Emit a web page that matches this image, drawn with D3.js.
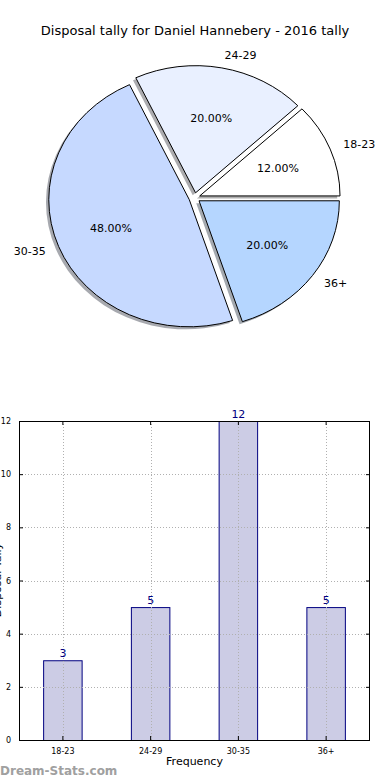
<!DOCTYPE html>
<html><head><meta charset="utf-8">
<script src="https://cdn.jsdelivr.net/npm/d3@7"></script>
<style>html,body{margin:0;padding:0;background:#fff;}svg{display:block;font-family:"DejaVu Sans",sans-serif;}</style>
</head><body>
<svg id="c" width="390" height="780"></svg>
<script>
const categories = ["18-23", "24-29", "30-35", "36+"];
const tallies = [3, 5, 12, 5];
const pieColors = ["#ffffff", "#e9f0ff", "#c6d9ff", "#b5d6ff"];
const yTicks = [0, 2, 4, 6, 8, 10, 12];
const titleText = "Disposal tally for Daniel Hannebery - 2016 tally";

const svg = d3.select("#c");

// ---------- Pie ----------
const cx = 194.5, cy = 197.8, rx = 140.3, ry = 127.1, explode = 0.04;
svg.append("text").attr("x", 195).attr("y", 35).attr("text-anchor", "middle")
  .attr("font-size", 13).attr("fill", "#000").text(titleText);

const total = d3.sum(tallies);
const pie = d3.pie().sort(null).startAngle(Math.PI / 2).endAngle(Math.PI / 2 - 2 * Math.PI);
const arcs = pie(tallies);
const arc = d3.arc().innerRadius(0).outerRadius(1);

function off(d) {
  const m = (d.startAngle + d.endAngle) / 2;
  return [explode * rx * Math.sin(m), -explode * ry * Math.cos(m)];
}
// shadows
arcs.forEach((d, i) => {
  const [ox, oy] = off(d);
  const c = d3.rgb(pieColors[i]);
  svg.append("path").attr("d", arc(d))
    .attr("transform", `translate(${cx + ox - 0.02 * rx},${cy + oy + 0.02 * ry}) scale(${rx},${ry})`)
    .attr("fill", d3.rgb(c.r * 0.3, c.g * 0.3, c.b * 0.3)).attr("fill-opacity", 0.45);
});
arcs.forEach((d, i) => {
  const [ox, oy] = off(d);
  svg.append("path").attr("d", arc(d))
    .attr("transform", `translate(${cx + ox},${cy + oy}) scale(${rx},${ry})`)
    .attr("fill", pieColors[i]).attr("stroke", "#000").attr("stroke-width", 1)
    .attr("vector-effect", "non-scaling-stroke");
});
arcs.forEach((d, i) => {
  const [ox, oy] = off(d);
  const m = (d.startAngle + d.endAngle) / 2;
  const sx = Math.sin(m), sy = -Math.cos(m);
  svg.append("text")
    .attr("x", cx + ox + 1.1 * rx * sx).attr("y", cy + oy + 1.1 * ry * sy)
    .attr("dy", "0.35em").attr("font-size", 11)
    .attr("text-anchor", sx >= 0 ? "start" : "end").text(categories[i]);
  svg.append("text")
    .attr("x", cx + ox + 0.6 * rx * sx).attr("y", cy + oy + 0.6 * ry * sy)
    .attr("dy", "0.35em").attr("font-size", 11).attr("text-anchor", "middle")
    .text((tallies[i] / total * 100).toFixed(2) + "%");
});

// ---------- Bar chart ----------
const L = 19, R = 370, T = 421, B = 740;
const x = d3.scaleBand().domain(categories).range([L, R]).paddingInner(0.55).paddingOuter(0.275);
const y = d3.scaleLinear().domain([0, 12]).range([B, T]);

svg.append("g").selectAll("rect").data(tallies).join("rect")
  .attr("x", (d, i) => x(categories[i]) + 0.5).attr("y", d => y(d) + 0.5)
  .attr("width", x.bandwidth() - 1).attr("height", d => B - y(d))
  .attr("fill", "#cccce5").attr("stroke", "#000080").attr("stroke-width", 1);

// grid
const grid = svg.append("g").attr("stroke", "#b0b0b0").attr("stroke-width", 1).attr("stroke-dasharray", "1,2");
yTicks.forEach(t => grid.append("line").attr("x1", L).attr("x2", R).attr("y1", Math.round(y(t)) + 0.5).attr("y2", Math.round(y(t)) + 0.5));
categories.forEach(c => {
  const xc = Math.round(x(c) + x.bandwidth() / 2) + 0.5;
  grid.append("line").attr("x1", xc).attr("x2", xc).attr("y1", T).attr("y2", B);
});

// axes (ticks inward)
const yAx = svg.append("g").attr("transform", `translate(${L},0)`)
  .call(d3.axisLeft(y).tickValues(yTicks).tickSize(-4).tickPadding(8));
const yAxR = svg.append("g").attr("transform", `translate(${R},0)`)
  .call(d3.axisRight(y).tickValues(yTicks).tickSize(-4).tickFormat(""));
const xAx = svg.append("g").attr("transform", `translate(0,${B})`)
  .call(d3.axisBottom(x).tickSize(-4).tickPadding(8));
const xAxT = svg.append("g").attr("transform", `translate(0,${T})`)
  .call(d3.axisTop(x).tickSize(-4).tickFormat(""));
[yAx, yAxR, xAx, xAxT].forEach(g => {
  g.select(".domain").remove();
  g.selectAll("text").attr("font-size", 8).attr("font-family", "DejaVu Sans").attr("fill", "#000");
  g.selectAll("line").attr("stroke", "#000");
});
svg.append("rect").attr("x", L + 0.5).attr("y", T + 0.5).attr("width", R - L - 1).attr("height", B - T)
  .attr("fill", "none").attr("stroke", "#000").attr("stroke-width", 1);

// value labels
svg.append("g").selectAll("text").data(tallies).join("text")
  .attr("x", (d, i) => x(categories[i]) + x.bandwidth() / 2).attr("y", d => y(d) - 3)
  .attr("text-anchor", "middle").attr("font-size", 11).attr("fill", "#000080").text(d => d);

svg.append("text").attr("x", (L + R) / 2).attr("y", 765).attr("text-anchor", "middle")
  .attr("font-size", 11).text("Frequency");
svg.append("text").attr("transform", "translate(1,580) rotate(-90)").attr("text-anchor", "middle")
  .attr("font-size", 11).text("Disposal Tally");
svg.append("text").attr("x", 0).attr("y", 775).attr("font-size", 12).attr("font-weight", "600")
  .attr("fill", "#a0a0a0").text("Dream-Stats.com");
</script>
</body></html>
